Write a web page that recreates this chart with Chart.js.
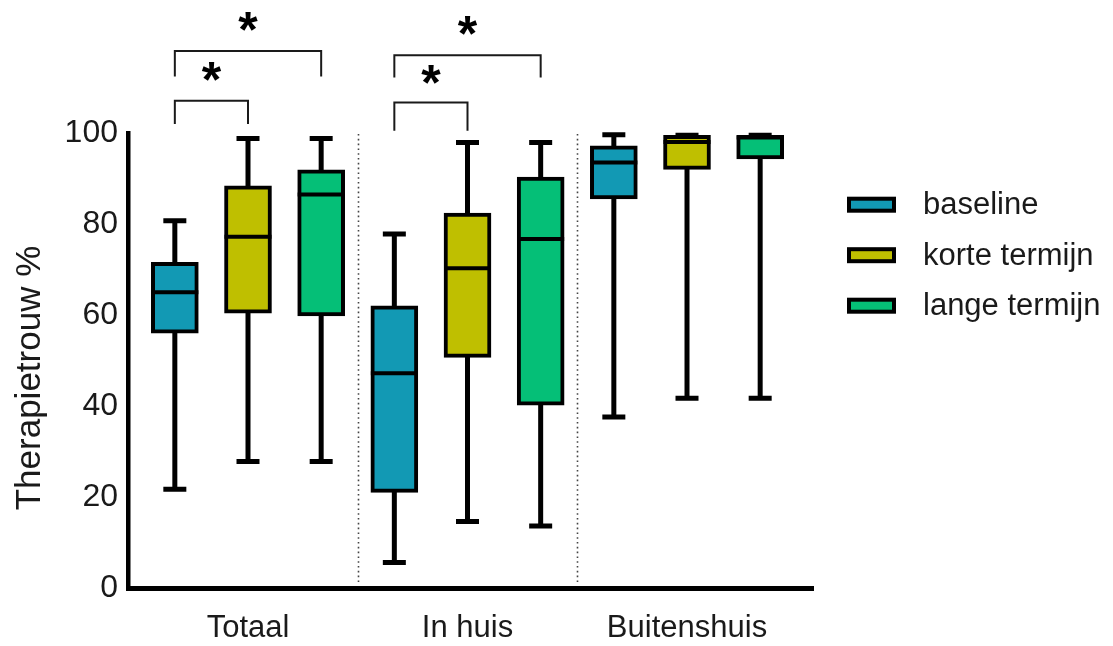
<!DOCTYPE html>
<html>
<head>
<meta charset="utf-8">
<script src="https://cdn.jsdelivr.net/npm/chart.js@4"></script>
<style>
html,body{margin:0;padding:0;background:#ffffff;}
#wrap{width:1113px;height:646px;position:relative;}
</style>
</head>
<body>
<div id="wrap"><canvas id="chart" width="1113" height="646"></canvas></div>
<script>
// ---------- DATA ----------
const categories = ['Totaal', 'In huis', 'Buitenshuis'];
const seriesNames = ['baseline', 'korte termijn', 'lange termijn'];
const yTickValues = [0, 20, 40, 60, 80, 100];

// values per category: [Totaal, In huis, Buitenshuis]
const baselineMin    = [21.7,  5.6, 37.6];
const baselineQ1     = [56.0, 21.0, 85.5];
const baselineMedian = [65.0, 47.2, 93.5];
const baselineQ3     = [71.6, 62.0, 97.2];
const baselineMax    = [80.7, 77.8, 99.6];

const korteMin    = [27.8, 14.6, 41.7];
const korteQ1     = [60.4, 50.7, 92.0];
const korteMedian = [77.2, 70.3, 98.0];
const korteQ3     = [88.4, 82.4, 99.5];
const korteMax    = [98.8, 97.9, 99.5];

const langeMin    = [27.8, 13.6, 41.7];
const langeQ1     = [59.8, 40.2, 94.3];
const langeMedian = [86.5, 76.7, 99.0];
const langeQ3     = [91.9, 90.3, 99.5];
const langeMax    = [98.8, 97.9, 99.5];

// significance comparisons (category index, series from, series to, label)
const sigCategory = [0, 0, 1, 1];
const sigFrom     = [0, 0, 0, 0];
const sigTo       = [1, 2, 1, 2];
const sigLabel    = ['*', '*', '*', '*'];

// ---------- STYLE / LAYOUT ----------
const seriesColors = ['#1299b4', '#bfbf00', '#05bf77'];
const seriesOffsets = [-1 / 3, 0, 1 / 3];
const textColor = '#1a1a1a';
const FONT = "'Liberation Sans', Arial, Helvetica, sans-serif";

const stats = [
  {min: baselineMin, q1: baselineQ1, med: baselineMedian, q3: baselineQ3, max: baselineMax},
  {min: korteMin, q1: korteQ1, med: korteMedian, q3: korteQ3, max: korteMax},
  {min: langeMin, q1: langeQ1, med: langeMedian, q3: langeQ3, max: langeMax}
];

const datasets = seriesNames.map((name, s) => ({
  label: name,
  data: categories.map((c, i) => ({x: i + seriesOffsets[s], y: [stats[s].q1[i], stats[s].q3[i]]})),
  backgroundColor: seriesColors[s],
  borderColor: '#000000',
  borderWidth: 4,
  borderSkipped: false,
  barThickness: 47,
  grouped: false
}));

// bracket levels in data units (short = neighbour comparison, long = wider comparison)
const bracketStyle = {
  short: {top: [107.1, 106.7], leg: [102.0, 100.5], star: [113.2, 112.6]},
  long:  {top: [118.0, 117.1], leg: [112.4, 112.2], star: [124.2, 123.2]}
};

const boxPlotPlugin = {
  id: 'boxplot',
  beforeDatasetsDraw(chart) {
    const ctx = chart.ctx;
    const ys = chart.scales.y, xs = chart.scales.x;
    const area = chart.chartArea;
    // dotted category separators
    ctx.save();
    ctx.strokeStyle = '#444';
    ctx.lineWidth = 1.6;
    ctx.setLineDash([1.6, 3.2]);
    for (let i = 0; i < categories.length - 1; i++) {
      const px = Math.round(xs.getPixelForValue(i + 0.5)) + 0.5;
      ctx.beginPath();
      ctx.moveTo(px, area.top + 1);
      ctx.lineTo(px, area.bottom - 3);
      ctx.stroke();
    }
    ctx.restore();
    // whiskers
    ctx.save();
    ctx.strokeStyle = '#000';
    chart.data.datasets.forEach((ds, s) => {
      const meta = chart.getDatasetMeta(s);
      meta.data.forEach((bar, i) => {
        const x = bar.x;
        const yMin = ys.getPixelForValue(stats[s].min[i]);
        const yMax = ys.getPixelForValue(stats[s].max[i]);
        ctx.lineWidth = 5;
        ctx.beginPath();
        ctx.moveTo(x, yMin);
        ctx.lineTo(x, yMax);
        ctx.stroke();
        ctx.beginPath();
        ctx.moveTo(x - 11.5, yMin);
        ctx.lineTo(x + 11.5, yMin);
        ctx.moveTo(x - 11.5, yMax);
        ctx.lineTo(x + 11.5, yMax);
        ctx.stroke();
      });
    });
    ctx.restore();
  },
  afterDatasetsDraw(chart) {
    const ctx = chart.ctx;
    const ys = chart.scales.y;
    ctx.save();
    ctx.strokeStyle = '#000';
    ctx.lineWidth = 4;
    chart.data.datasets.forEach((ds, s) => {
      const meta = chart.getDatasetMeta(s);
      meta.data.forEach((bar, i) => {
        const y = ys.getPixelForValue(stats[s].med[i]);
        ctx.beginPath();
        ctx.moveTo(bar.x - bar.width / 2, y);
        ctx.lineTo(bar.x + bar.width / 2, y);
        ctx.stroke();
      });
    });
    ctx.restore();
  },
  afterDraw(chart) {
    const ctx = chart.ctx;
    const ys = chart.scales.y, xs = chart.scales.x;
    // significance brackets
    ctx.save();
    ctx.strokeStyle = '#1a1a1a';
    ctx.lineWidth = 2;
    ctx.fillStyle = '#000';
    sigCategory.forEach((cat, k) => {
      const kind = (sigTo[k] - sigFrom[k]) > 1 ? 'long' : 'short';
      const st = bracketStyle[kind];
      const ci = cat === 0 ? 0 : 1;
      const x1 = xs.getPixelForValue(cat + seriesOffsets[sigFrom[k]]);
      const x2 = xs.getPixelForValue(cat + seriesOffsets[sigTo[k]]);
      const yTop = ys.getPixelForValue(st.top[ci]);
      const yLeg = ys.getPixelForValue(st.leg[ci]);
      ctx.beginPath();
      ctx.moveTo(x1, yLeg);
      ctx.lineTo(x1, yTop);
      ctx.lineTo(x2, yTop);
      ctx.lineTo(x2, yLeg);
      ctx.stroke();
      ctx.font = "bold 50px " + FONT;
      ctx.textAlign = 'center';
      ctx.textBaseline = 'alphabetic';
      const yStar = ys.getPixelForValue(st.star[ci]);
      ctx.fillText(sigLabel[k], (x1 + x2) / 2, yStar + 24);
    });
    ctx.restore();

    // y-axis title
    ctx.save();
    ctx.fillStyle = textColor;
    ctx.font = "35px " + FONT;
    ctx.textAlign = 'center';
    ctx.textBaseline = 'alphabetic';
    ctx.translate(40, 378);
    ctx.rotate(-Math.PI / 2);
    ctx.fillText('Therapietrouw %', 0, 0);
    ctx.restore();

    // legend
    ctx.save();
    chart.data.datasets.forEach((ds, s) => {
      const cy = 204.7 + s * 50.5;
      ctx.fillStyle = ds.backgroundColor;
      ctx.fillRect(849, cy - 6, 45, 12);
      ctx.strokeStyle = '#000';
      ctx.lineWidth = 4;
      ctx.strokeRect(849, cy - 6, 45, 12);
      ctx.fillStyle = textColor;
      ctx.font = "31px " + FONT;
      ctx.textAlign = 'left';
      ctx.textBaseline = 'middle';
      ctx.fillText(ds.label, 923, cy + 1);
    });
    ctx.restore();
  }
};

new Chart(document.getElementById('chart'), {
  type: 'bar',
  data: {datasets},
  options: {
    responsive: false,
    animation: false,
    devicePixelRatio: 1,
    layout: {padding: {top: 133, left: 0, right: 300, bottom: 0}},
    plugins: {legend: {display: false}, tooltip: {enabled: false}, title: {display: false}},
    scales: {
      x: {
        type: 'linear',
        offset: false,
        min: -0.5467,
        max: 2.574,
        afterBuildTicks(scale) { scale.ticks = categories.map((c, i) => ({value: i})); },
        afterFit(scale) { scale.height = 58; },
        ticks: {
          autoSkip: false,
          maxRotation: 0,
          padding: 22,
          color: textColor,
          font: {family: FONT, size: 31},
          callback: (v) => categories[v]
        },
        grid: {display: false, drawTicks: false, offset: false},
        border: {display: true, color: '#000', width: 5}
      },
      y: {
        type: 'linear',
        min: 0,
        max: 100,
        afterBuildTicks(scale) { scale.ticks = yTickValues.map(v => ({value: v})); },
        afterFit(scale) { scale.width = 128; },
        ticks: {
          padding: 10,
          color: textColor,
          font: {family: FONT, size: 32}
        },
        grid: {display: false, drawTicks: false},
        border: {display: true, color: '#000', width: 4.5}
      }
    }
  },
  plugins: [boxPlotPlugin]
});
</script>
</body>
</html>
